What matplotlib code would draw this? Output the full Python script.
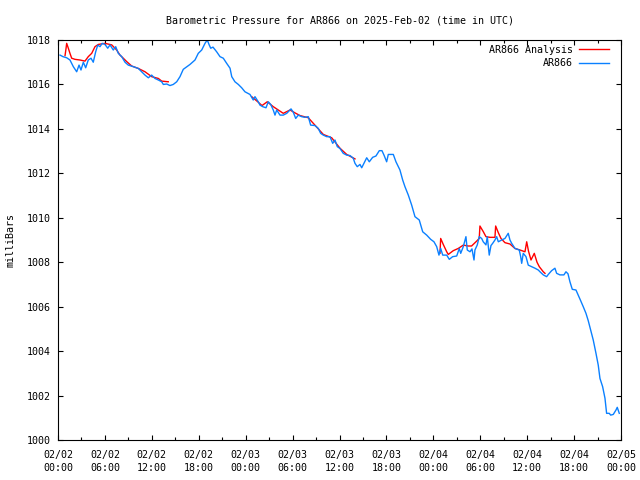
import numpy as np
import matplotlib
matplotlib.use('Agg')
import matplotlib.pyplot as plt

# Saat (02/02 00:00 UTC'den itibaren) ve basınç değerleri - AR866 ölçümleri
saat_olcum = [0.26, 0.64, 1.11, 1.53, 1.96, 2.39, 2.69, 2.94, 3.24, 3.54, 3.87, 4.22, 4.51, 4.82, 5.08,
              5.37, 5.66, 6.01, 6.36, 6.65, 7.07, 7.38, 7.71, 8.15, 8.57, 8.99, 9.63, 10.27, 10.7, 11.13,
              11.55, 11.98, 12.4, 12.83, 13.26, 13.47, 13.9, 14.32, 14.74, 15.18, 15.6, 16.02, 16.88,
              17.52, 17.94, 18.38, 18.8, 19.09, 19.31, 19.53, 19.82, 20.29, 20.72, 21.14, 21.57, 22.0,
              22.22, 22.63, 23.06, 23.49, 23.91, 24.55, 24.97, 25.19, 25.61, 25.83, 26.18, 26.6, 26.89,
              27.2, 27.53, 27.75, 27.97, 28.39, 28.81, 29.25, 29.8, 30.09, 30.4, 30.73, 31.16, 31.59,
              32.01, 32.31, 32.86, 33.29, 33.59, 33.93, 34.36, 34.78, 35.13, 35.42, 35.72, 36.06, 36.48,
              36.92, 37.34, 37.76, 37.98, 38.27, 38.62, 38.84, 39.13, 39.48, 39.81, 40.24, 40.66, 41.09,
              41.43, 41.69, 42.03, 42.24, 42.88, 43.22, 43.73, 44.08, 44.37, 44.8, 45.23, 45.65, 46.2,
              46.64, 47.15, 47.66, 48.08, 48.43, 48.72, 48.94, 49.2, 49.71, 50.04, 50.47, 50.99, 51.32,
              51.5, 51.83, 52.17, 52.34, 52.69, 52.94, 53.2, 53.32, 53.62, 53.87, 54.18, 54.38, 54.73,
              54.9, 55.15, 55.37, 55.59, 55.88, 56.1, 56.31, 56.74, 57.16, 57.58, 57.8, 58.02, 58.44,
              58.99, 59.17, 59.3, 59.5, 59.85, 60.14, 60.58, 61.0, 61.42, 61.64, 62.06, 62.49, 62.7,
              63.13, 63.55, 63.77, 64.19, 64.7, 64.96, 65.22, 65.47, 65.77, 66.24, 66.53, 66.84, 67.17,
              67.52, 67.81, 68.12, 68.45, 68.8, 69.09, 69.31, 69.65, 69.95, 70.16, 70.5, 70.68, 71.01,
              71.36, 71.52, 71.78]
basinc_olcum = [1017.32, 1017.25, 1017.2, 1017.1, 1016.8, 1016.57, 1016.87, 1016.65, 1017.0, 1016.75,
                1017.1, 1017.18, 1017.0, 1017.47, 1017.77, 1017.7, 1017.85, 1017.8, 1017.63, 1017.78,
                1017.55, 1017.7, 1017.4, 1017.25, 1017.0, 1016.87, 1016.8, 1016.72, 1016.57, 1016.42,
                1016.3, 1016.42, 1016.27, 1016.2, 1016.12, 1016.0, 1016.02, 1015.95, 1016.0, 1016.12,
                1016.35, 1016.68, 1016.9, 1017.1, 1017.4, 1017.55, 1017.85, 1018.0, 1017.8, 1017.63,
                1017.68, 1017.47, 1017.25, 1017.18, 1016.95, 1016.73, 1016.35, 1016.12, 1016.0, 1015.85,
                1015.67, 1015.55, 1015.3, 1015.45, 1015.22, 1015.07, 1015.0, 1014.95, 1015.22, 1015.1,
                1014.85, 1014.62, 1014.85, 1014.62, 1014.62, 1014.7, 1014.9, 1014.75, 1014.47, 1014.62,
                1014.55, 1014.52, 1014.55, 1014.17, 1014.15, 1014.02, 1013.8, 1013.72, 1013.65, 1013.65,
                1013.35, 1013.5, 1013.2, 1013.12, 1012.9, 1012.82, 1012.8, 1012.68, 1012.45, 1012.3,
                1012.4, 1012.25, 1012.45, 1012.7, 1012.52, 1012.72, 1012.78, 1013.02, 1013.02, 1012.82,
                1012.52, 1012.85, 1012.85, 1012.52, 1012.15, 1011.7, 1011.4, 1011.02, 1010.57, 1010.05,
                1009.9, 1009.37, 1009.22, 1009.03, 1008.92, 1008.7, 1008.32, 1008.62, 1008.32, 1008.32,
                1008.13, 1008.25, 1008.28, 1008.62, 1008.4, 1008.7, 1009.15, 1008.55, 1008.47, 1008.6,
                1008.1, 1008.55, 1008.78, 1009.15, 1009.07, 1008.92, 1008.78, 1009.15, 1008.32, 1008.75,
                1008.85, 1009.0, 1009.15, 1008.92, 1009.0, 1009.07, 1009.3, 1009.0, 1008.85, 1008.62,
                1008.55, 1008.25, 1007.95, 1008.4, 1008.25, 1007.87, 1007.8, 1007.73, 1007.65, 1007.57,
                1007.43, 1007.35, 1007.45, 1007.62, 1007.73, 1007.5, 1007.43, 1007.43, 1007.57, 1007.48,
                1007.12, 1006.78, 1006.75, 1006.52, 1006.27, 1006.0, 1005.7, 1005.37, 1004.95, 1004.5,
                1003.9, 1003.37, 1002.77, 1002.4, 1001.88, 1001.2, 1001.2, 1001.12, 1001.15, 1001.35,
                1001.47, 1001.2]

# Analiz serisi (üç ayrı parça, aralar NaN ile bölünür)
saat_analiz = [0.9, 1.02, 1.11, 1.32, 1.53, 1.75, 2.17, 2.81, 3.45, 3.87, 4.31, 4.73, 5.15, 6.01, 6.87,
               7.5, 7.93, 8.35, 8.78, 9.42, 10.27, 11.13, 11.98, 12.83, 13.26, 14.1, np.nan,
               24.77, 25.61, 26.09, 26.76, 27.53, 28.81, 29.67, 30.31, 30.95, 32.01, 32.65, 33.93, 35.0,
               36.06, 36.92, 37.98, np.nan,
               48.85, 48.94, 49.27, 49.71, 49.91, 50.55, 51.19, 51.83, 52.46, 52.89, 53.54, 53.87, 53.96,
               54.38, 54.73, 55.24, 55.88, 55.97, 56.31, 56.65, 57.16, 57.8, 58.44, 59.08, 59.72, 59.94,
               60.17, 60.49, 60.91, 61.26, 61.55, 62.06, 62.28]
basinc_analiz = [1017.3, 1017.6, 1017.85, 1017.63, 1017.4, 1017.18, 1017.13, 1017.1, 1017.05, 1017.25,
                 1017.4, 1017.7, 1017.8, 1017.85, 1017.78, 1017.55, 1017.32, 1017.18, 1017.03, 1016.83,
                 1016.72, 1016.57, 1016.35, 1016.27, 1016.15, 1016.12, np.nan,
                 1015.45, 1015.2, 1015.05, 1015.22, 1015.0, 1014.7, 1014.85, 1014.72, 1014.6, 1014.5,
                 1014.25, 1013.75, 1013.6, 1013.13, 1012.85, 1012.65, np.nan,
                 1008.4, 1009.07, 1008.8, 1008.47, 1008.35, 1008.52, 1008.62, 1008.77, 1008.73, 1008.73,
                 1008.95, 1009.07, 1009.63, 1009.38, 1009.15, 1009.12, 1009.12, 1009.63, 1009.33, 1009.07,
                 1008.88, 1008.82, 1008.62, 1008.55, 1008.47, 1008.92, 1008.5, 1008.1, 1008.4, 1008.0,
                 1007.8, 1007.57, 1007.5]

# Eksen etiketleri
x_tikler = list(range(0, 73, 6))
x_etiketler = ['02/02\n00:00', '02/02\n06:00', '02/02\n12:00', '02/02\n18:00',
               '02/03\n00:00', '02/03\n06:00', '02/03\n12:00', '02/03\n18:00',
               '02/04\n00:00', '02/04\n06:00', '02/04\n12:00', '02/04\n18:00',
               '02/05\n00:00']
y_tikler = list(range(1000, 1019, 2))

plt.rcParams['font.family'] = ['DejaVu Sans Mono']
plt.rcParams['font.size'] = 7.2

fig = plt.figure(figsize=(6.4, 4.8), dpi=100)
ax = fig.add_axes([58 / 640, 40 / 480, 563 / 640, 400 / 480])

ax.plot(saat_analiz, basinc_analiz, color='#ff0000', lw=1.0, label='AR866 Analysis')
ax.plot(saat_olcum, basinc_olcum, color='#0a80ff', lw=1.0, label='AR866')

ax.set_xlim(0, 72)
ax.set_ylim(1000, 1018)
ax.set_xticks(x_tikler)
ax.set_xticklabels(x_etiketler, linespacing=1.35)
ax.set_xticks(range(0, 73, 3), minor=True)
ax.set_yticks(y_tikler)

ax.tick_params(which='both', direction='in', top=True, right=True, width=0.8, pad=5)
ax.tick_params(axis='x', which='major', pad=7)
ax.tick_params(which='major', length=3.6)
ax.tick_params(which='minor', length=2.0)
for s in ax.spines.values():
    s.set_linewidth(0.8)

ax.set_ylabel('milliBars', labelpad=8)
ax.set_title('Barometric Pressure for AR866 on 2025-Feb-02 (time in UTC)', fontsize=7.2, pad=12)

ax.legend(loc='upper right', bbox_to_anchor=(1 - 6 / 563, 1 + 1 / 400), frameon=False,
          markerfirst=False, handlelength=3.0, handletextpad=0.6, borderaxespad=0.2,
          labelspacing=0.35)

fig.savefig('out.png', dpi=100)
